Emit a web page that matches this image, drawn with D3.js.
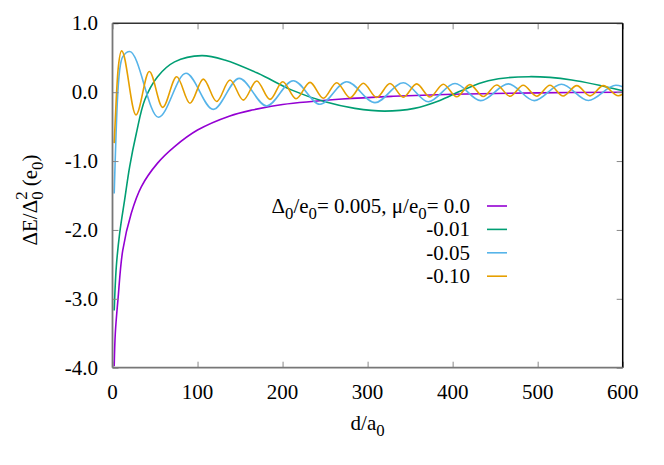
<!DOCTYPE html>
<html>
<head>
<meta charset="utf-8">
<script src="https://cdn.jsdelivr.net/npm/d3@7"></script>
</head>
<body style="margin:0">
<div id="chart"></div>
<script>
// curve data: [d/a0, dE/D0^2]
const mu00 = [[2,-3.98],[3.3,-3.5],[6.5,-3.0],[12,-2.3],[22,-1.76],[34,-1.37],[53,-1.03],[73,-0.79],[100,-0.55],
  [138,-0.345],[164,-0.26],[200,-0.18],[270,-0.10],[330,-0.06],[400,-0.03],[500,-0.01],[600,0.0]];
const mu01 = [[2,-3.17],[4.5,-2.53],[8.4,-2.05],[14.3,-1.56],[20.2,-1.08],[28,-0.6],[38,-0.11],[53,0.225],[73,0.44],
  [105,0.53],[132,0.467],[171,0.274],[211,0.03],[250,-0.14],[285,-0.235],[320,-0.275],[355,-0.235],[385,-0.12],
  [410,0.02],[442,0.167],[490,0.225],[540,0.177],[600,0.02]];
const mu05 = [[2,-1.47],[5.6,-0.16],[8.4,0.32],[12.3,0.52],[20.2,0.59],[54,-0.365],[86.4,0.274],[118.5,-0.25],
  [149,0.2],[181.3,-0.2],[212.6,0.167],[244,-0.176],[275.4,0.152],[308.7,-0.152],[342,0.138],[371.4,-0.138],
  [402.8,0.125],[433,-0.123],[465.5,0.12],[496,-0.123],[528,0.115],[559.6,-0.12],[592,0.1],[600,0.08]];
const mu10 = [[2,-0.74],[4.5,-0.07],[6.5,0.32],[10.8,0.6],[27.6,-0.33],[43.3,0.30],[59,-0.22],[75.5,0.225],[91.1,-0.16],
  [106.8,0.19],[122.5,-0.135],[138.2,0.177],[153.8,-0.115],[169.6,0.163],[185.2,-0.105],[200.2,0.152],[215.8,-0.095],
  [232.3,0.143],[248,-0.088],[263.7,0.138],[279.3,-0.08],[295,0.13],[310.7,-0.077],[326.3,0.125],[342,-0.073],
  [357.7,0.12],[373.4,-0.07],[389,0.115],[404.8,-0.066],[420.4,0.11],[436,-0.063],[451.8,0.105],[467.5,-0.06],
  [483,0.1],[498.9,-0.058],[514.5,0.1],[530,-0.056],[546,0.095],[561.6,-0.054],[577.2,0.095],[594.8,-0.052],[600,-0.03]];

const seriesNames = ["0.0", "-0.01", "-0.05", "-0.10"];
const seriesColors = ["#9400d3", "#009e73", "#56b4e9", "#e69f00"];
const seriesData = [mu00, mu01, mu05, mu10];
// smooth monotone curves use catmull-rom, oscillating ones go through their extrema
const seriesCurve = [d3.curveCatmullRom.alpha(0.5), d3.curveCatmullRom.alpha(0.5), d3.curveMonotoneX, d3.curveMonotoneX];

const xTicks = [0, 100, 200, 300, 400, 500, 600];
const yTicks = [1, 0, -1, -2, -3, -4];

const W = 664, H = 465;
const plot = { left: 112.5, right: 622.7, top: 23.3, bottom: 367.7 };
const SERIF = "'Times New Roman'";

const svg = d3.select("#chart").append("svg").attr("width", W).attr("height", H);

const x = d3.scaleLinear().domain([0, 600]).range([plot.left, plot.right]);
const y = d3.scaleLinear().domain([-4, 1]).range([plot.bottom, plot.top]);

svg.append("clipPath").attr("id", "clip")
    .append("rect")
    .attr("x", plot.left).attr("y", plot.top)
    .attr("width", plot.right - plot.left).attr("height", plot.bottom - plot.top);

// curves
const curves = svg.append("g").attr("clip-path", "url(#clip)");
seriesData.forEach((data, i) => {
    const line = d3.line()
        .x(d => x(d[0]))
        .y(d => y(d[1]))
        .curve(seriesCurve[i]);
    curves.append("path")
        .datum(data)
        .attr("fill", "none")
        .attr("stroke", seriesColors[i])
        .attr("stroke-width", 1.6)
        .attr("stroke-linejoin", "round")
        .attr("d", line);
});

// axis ticks (inward, mirrored); labels are drawn as plain texts below
function styleAxis(g) {
    g.select(".domain").remove();
    g.selectAll(".tick line").attr("stroke", "#888").attr("stroke-width", 1);
    g.selectAll(".tick text").remove();
}
svg.append("g").attr("transform", "translate(0," + plot.bottom + ")")
    .call(d3.axisBottom(x).tickValues(xTicks).tickSize(-6)).call(styleAxis);
svg.append("g").attr("transform", "translate(0," + plot.top + ")")
    .call(d3.axisTop(x).tickValues(xTicks).tickSize(-6)).call(styleAxis);
svg.append("g").attr("transform", "translate(" + plot.left + ",0)")
    .call(d3.axisLeft(y).tickValues(yTicks).tickSize(-6)).call(styleAxis);
svg.append("g").attr("transform", "translate(" + plot.right + ",0)")
    .call(d3.axisRight(y).tickValues(yTicks).tickSize(-6)).call(styleAxis);

// tick labels
xTicks.forEach(v => {
    svg.append("text")
        .attr("x", x(v)).attr("y", plot.bottom + 31)
        .attr("text-anchor", "middle")
        .style("font-family", SERIF)
        .style("font-size", "21px")
        .text(String(v));
});
yTicks.forEach(v => {
    svg.append("text")
        .attr("x", plot.left - 14.5).attr("y", y(v) + 7)
        .attr("text-anchor", "end")
        .style("font-family", SERIF)
        .style("font-size", "21px")
        .text(v.toFixed(1));
});

// frame
svg.append("line").attr("x1", plot.left).attr("x2", plot.right).attr("y1", plot.top).attr("y2", plot.top)
    .attr("stroke", "#333").attr("stroke-width", 1.5);
svg.append("line").attr("x1", plot.right).attr("x2", plot.right).attr("y1", plot.top).attr("y2", plot.bottom)
    .attr("stroke", "#000").attr("stroke-width", 1.5);
svg.append("line").attr("x1", plot.left).attr("x2", plot.left).attr("y1", plot.top).attr("y2", plot.bottom)
    .attr("stroke", "#777").attr("stroke-width", 1.8);
svg.append("line").attr("x1", plot.left).attr("x2", plot.right).attr("y1", plot.bottom).attr("y2", plot.bottom)
    .attr("stroke", "#777").attr("stroke-width", 1.8);

// rich text helper: parts with sub / sup flags
function richText(sel, parts, size) {
    sel.style("font-family", SERIF).style("font-size", size + "px");
    let shift = 0;
    parts.forEach(p => {
        const t = sel.append("tspan");
        if (p.sub || p.sup) {
            const target = p.sub ? 0.3 * size : -0.5 * size;
            t.style("font-size", (0.8 * size) + "px").attr("dy", target - shift);
            if (p.dx) t.attr("dx", p.dx);
            shift = target;
        } else {
            if (shift !== 0) t.attr("dy", -shift);
            shift = 0;
        }
        t.text(p.t);
    });
}

// y label
const yLab = svg.append("text")
    .attr("transform", "translate(37,200) rotate(-90)")
    .attr("text-anchor", "middle");
richText(yLab, [
    { t: "ΔE/Δ" }, { t: "0", sub: true }, { t: "2", sup: true, dx: -8.4 }, { t: " (e" }, { t: "0", sub: true }, { t: ")" }
], 21);

// x label
const xLab = svg.append("text")
    .attr("x", (plot.left + plot.right) / 2)
    .attr("y", 430)
    .attr("text-anchor", "middle");
richText(xLab, [{ t: "d/a" }, { t: "0", sub: true }], 21);

// legend
const legY0 = 206, legStep = 23.4;
seriesNames.forEach((name, i) => {
    const ly = legY0 + i * legStep;
    const t = svg.append("text")
        .attr("x", 470)
        .attr("y", ly + 7)
        .attr("text-anchor", "end");
    if (i === 0) {
        richText(t, [
            { t: "Δ" }, { t: "0", sub: true }, { t: "/e" }, { t: "0", sub: true }, { t: "= 0.005, μ/e" },
            { t: "0", sub: true }, { t: "= " + name }
        ], 21);
    } else {
        richText(t, [{ t: name }], 21);
    }
    svg.append("line")
        .attr("x1", 487).attr("x2", 507)
        .attr("y1", ly).attr("y2", ly)
        .attr("stroke", seriesColors[i])
        .attr("stroke-width", 1.6);
});
</script>
</body>
</html>
